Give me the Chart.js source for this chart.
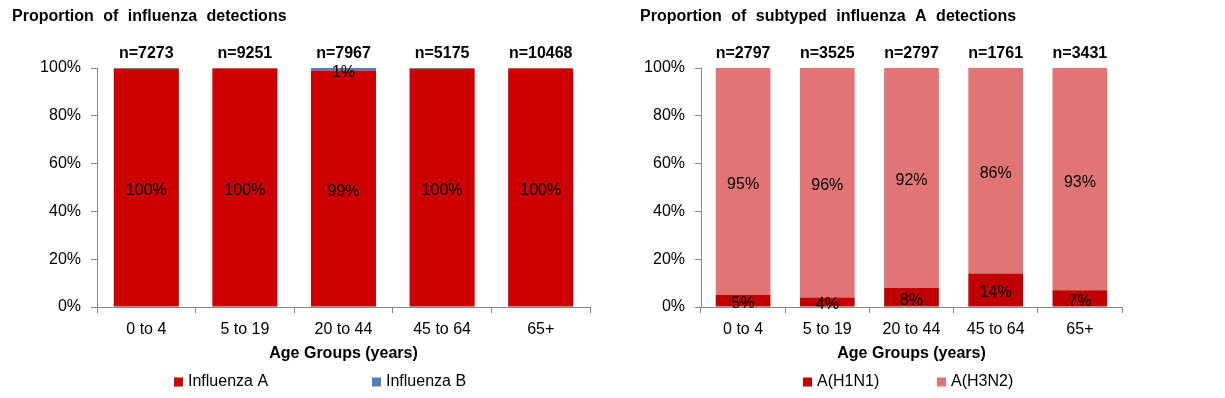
<!DOCTYPE html>
<html>
<head>
<meta charset="utf-8">
<script src="https://cdn.jsdelivr.net/npm/chart.js@4.4.0/dist/chart.umd.min.js"></script>
<style>
  html, body { margin: 0; padding: 0; background: #fff; }
  .wrap { position: absolute; top: 0; height: 398px; }
</style>
</head>
<body>
<div class="wrap" style="left:0;width:612px"><canvas id="c1"></canvas></div>
<div class="wrap" style="left:612px;width:613px"><canvas id="c2"></canvas></div>
<script>
const ageGroups = ['0 to 4', '5 to 19', '20 to 44', '45 to 64', '65+'];

// left: all influenza detections (%)
const fluA = [99.7, 99.8, 99, 99.7, 99.8];
const fluB = [0.3, 0.2, 1, 0.3, 0.2];
const fluCounts = [7273, 9251, 7967, 5175, 10468];

// right: subtyped influenza A (%)
const h1n1 = [5, 4, 8, 14, 7];
const h3n2 = [95, 96, 92, 86, 93];
const subCounts = [2797, 3525, 2797, 1761, 3431];

const yTicks = [0, 20, 40, 60, 80, 100];

Chart.defaults.font.family = '"Liberation Sans", Arial, sans-serif';
Chart.defaults.color = '#000';

const AXIS = '#868686';

// titles, n= labels, value labels and the legend
const annot = {
  id: 'annot',
  afterDatasetsDraw(chart, args, o) {
    const ctx = chart.ctx;
    const area = chart.chartArea;
    ctx.save();
    ctx.fillStyle = '#000';
    ctx.textAlign = 'center';
    ctx.textBaseline = 'middle';
    ctx.font = '16px "Liberation Sans", Arial';
    chart.data.datasets.forEach((ds, i) => {
      chart.getDatasetMeta(i).data.forEach((bar, j) => {
        const v = Math.round(ds.data[j]);
        if (v < 1) return;
        ctx.fillText(v + '%', bar.x, (bar.y + bar.base) / 2 + 3);
      });
    });
    ctx.font = 'bold 16px "Liberation Sans", Arial';
    const m0 = chart.getDatasetMeta(0);
    o.counts.forEach((n, j) => ctx.fillText('n=' + n, m0.data[j].x, area.top - 14));
    ctx.textAlign = 'left';
    ctx.wordSpacing = '5px';
    ctx.fillText(o.title, o.titleX, 17);
    ctx.wordSpacing = '0px';
    // legend
    ctx.font = '16px "Liberation Sans", Arial';
    const ly = chart.height - 16;
    chart.data.datasets.forEach((ds, i) => {
      const x = o.legendX[i];
      ctx.fillStyle = ds.backgroundColor;
      ctx.fillRect(x, ly - 4.5, 9, 9);
      ctx.fillStyle = '#000';
      ctx.fillText(ds.label, x + 14, ly);
    });
    ctx.restore();
  }
};

function makeChart(id, sets, counts, title, cfg) {
  return new Chart(document.getElementById(id), {
    type: 'bar',
    data: { labels: ageGroups, datasets: sets },
    plugins: [annot],
    options: {
      responsive: true, maintainAspectRatio: false, animation: false,
      layout: { padding: { top: 68, right: cfg.padRight, bottom: 35, left: 0 } },
      datasets: { bar: { categoryPercentage: 1, barPercentage: cfg.barPct } },
      plugins: {
        legend: { display: false }, tooltip: { enabled: false },
        annot: { counts, title, titleX: cfg.titleX, legendX: cfg.legendX }
      },
      scales: {
        x: {
          stacked: true,
          grid: { drawOnChartArea: false, drawTicks: true, tickLength: 6, color: AXIS, offset: true },
          border: { color: AXIS },
          ticks: { font: { size: 16 }, padding: 7, maxRotation: 0 },
          title: { display: true, text: 'Age Groups (years)', font: { size: 16, weight: 'bold' }, padding: 0 },
          afterFit: s => { s.height = 56; }
        },
        y: {
          stacked: true, min: 0, max: 100,
          afterBuildTicks: s => { s.ticks = yTicks.map(v => ({ value: v })); },
          grid: { drawOnChartArea: false, drawTicks: true, tickLength: 6, color: AXIS },
          border: { color: AXIS },
          ticks: { font: { size: 16 }, padding: 10, callback: v => v + '%' },
          afterFit: s => { s.width = cfg.yWidth; }
        }
      }
    }
  });
}

makeChart('c1', [
  { label: 'Influenza A', data: fluA, backgroundColor: '#CC0000' },
  { label: 'Influenza B', data: fluB, backgroundColor: '#4F81BD' }
], fluCounts, 'Proportion of influenza detections',
  { padRight: 22, yWidth: 97, barPct: 0.66, titleX: 12, legendX: [174, 372] });

makeChart('c2', [
  { label: 'A(H1N1)', data: h1n1, backgroundColor: '#C00000' },
  { label: 'A(H3N2)', data: h3n2, backgroundColor: '#E17474' }
], subCounts, 'Proportion of subtyped influenza A detections',
  { padRight: 103, yWidth: 89, barPct: 0.65, titleX: 28, legendX: [191, 325] });
</script>
</body>
</html>
